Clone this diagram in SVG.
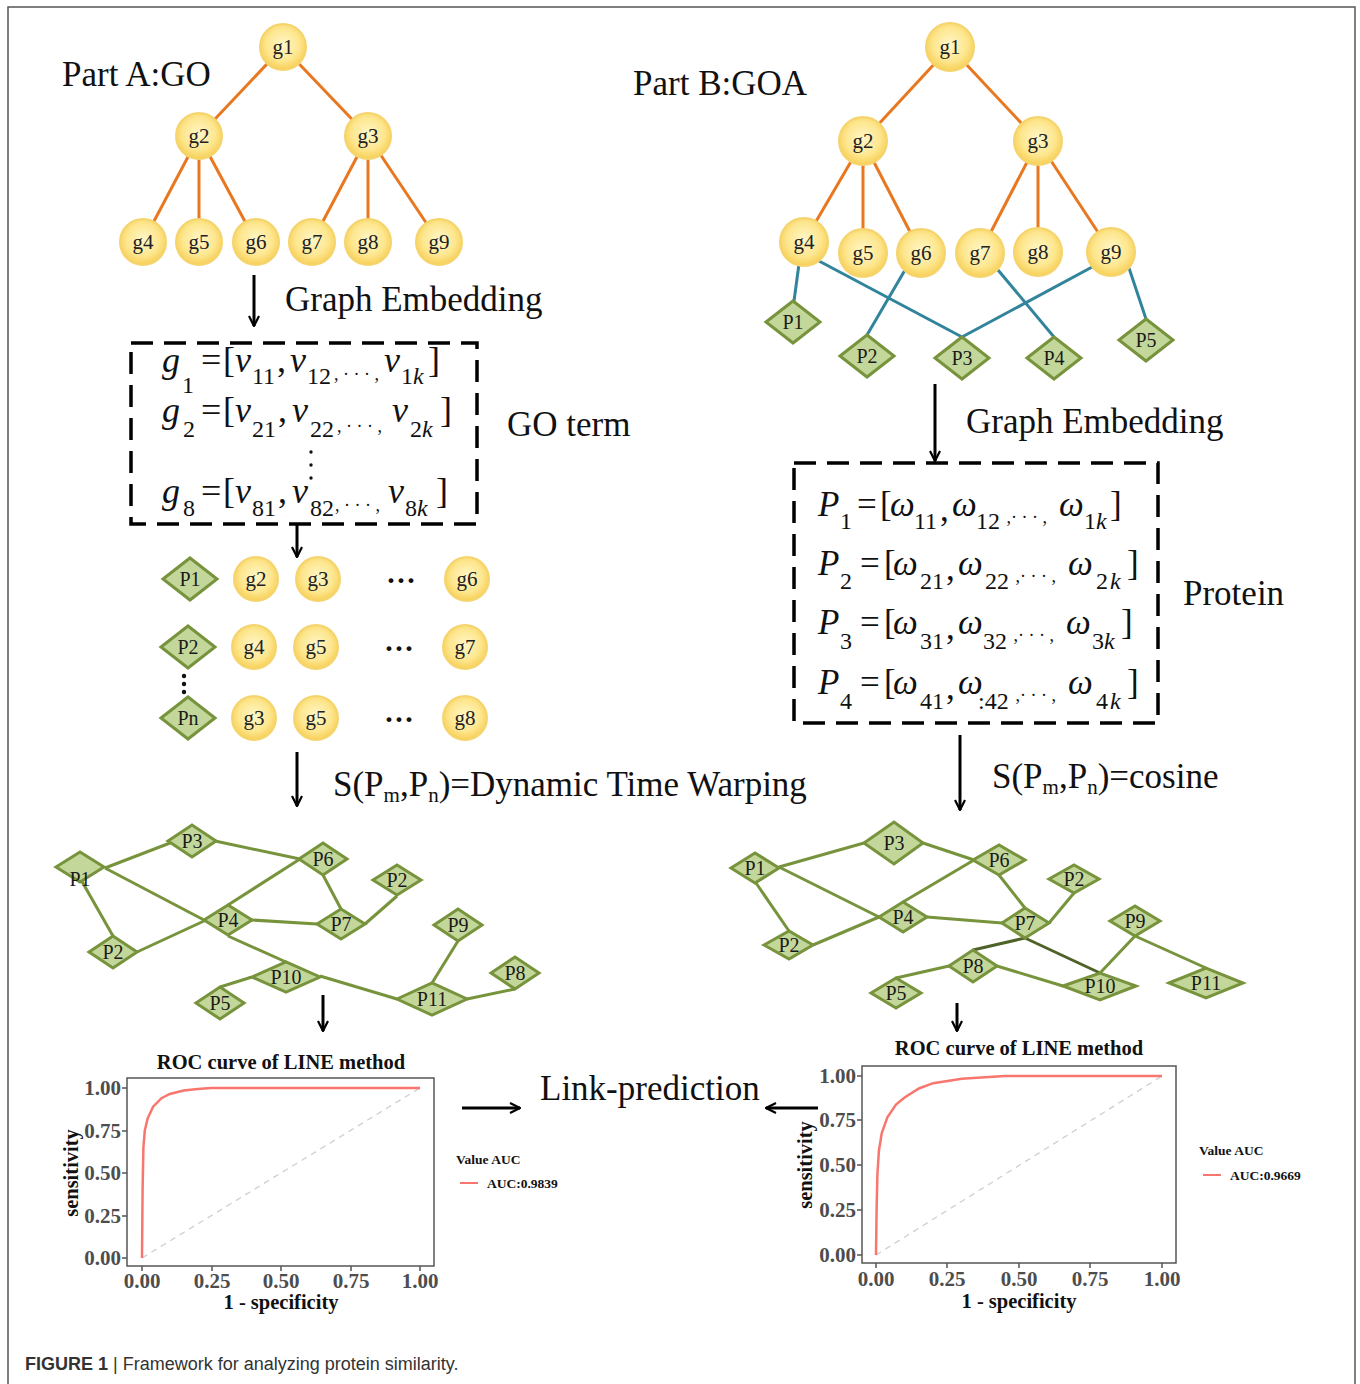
<svg xmlns="http://www.w3.org/2000/svg" width="1360" height="1384" viewBox="0 0 1360 1384">
<defs>
<radialGradient id="gold" cx="50%" cy="45%" r="55%">
<stop offset="0" stop-color="#FFF7C8"/>
<stop offset="0.65" stop-color="#FDE68E"/>
<stop offset="1" stop-color="#F7CF55"/>
</radialGradient>
<marker id="ah" viewBox="0 0 12 12" refX="11" refY="6" markerWidth="12" markerHeight="12" markerUnits="userSpaceOnUse" orient="auto">
<path d="M1,1 L11,6 L1,11" fill="none" stroke="#000" stroke-width="2.2"/>
</marker>
<style>
.t{font-family:"Liberation Serif",serif;fill:#111}
.big{font-size:35px}
.gc{fill:url(#gold);stroke:#F5D46E;stroke-width:2}
.gl{font-family:"Liberation Serif",serif;font-size:21px;fill:#222;text-anchor:middle}
.dm{fill:#C4D79B;stroke:#77933C;stroke-width:3}
.pl{font-family:"Liberation Serif",serif;font-size:20px;fill:#1a1a1a;text-anchor:middle}
.oe{stroke:#E8771F;stroke-width:3;fill:none}
.be{stroke:#31849B;stroke-width:3;fill:none}
.ge{stroke:#77933C;stroke-width:3;fill:none}
.gd{stroke:#4F6228;stroke-width:3;fill:none}
.arr{stroke:#000;stroke-width:3;fill:none;marker-end:url(#ah)}
.box{fill:none;stroke:#000;stroke-width:3.5;stroke-dasharray:22 11}
.m{font-family:"Liberation Serif",serif;font-size:36px;fill:#111}
.mb{font-family:"Liberation Serif",serif;font-size:35px;fill:#111}
.i{font-style:italic}
.s{font-size:24px}
.el{font-size:18px}
.ax{font-family:"Liberation Serif",serif;font-size:21px;font-weight:bold;fill:#4D4D4D}
.axt{font-family:"Liberation Serif",serif;font-size:20.5px;font-weight:bold;fill:#111}
.ttl{font-family:"Liberation Serif",serif;font-size:20.5px;font-weight:bold;fill:#111;text-anchor:middle}
.lg{font-family:"Liberation Serif",serif;font-size:13.5px;font-weight:bold;fill:#111}
.frame{fill:none;stroke:#555;stroke-width:1.5}
.pb{fill:#fff;stroke:#555;stroke-width:1.5}
.tk{stroke:#555;stroke-width:1.5}
.roc{fill:none;stroke:#F8766D;stroke-width:2.5}
.dg{fill:none;stroke:#CFCFCF;stroke-width:1.3;stroke-dasharray:6 5}
.dots{font-family:"Liberation Serif",serif;font-size:30px;font-weight:bold;fill:#111}
</style>
</defs>
<rect x="0" y="0" width="1360" height="1384" fill="#fff"/>
<path class="frame" d="M8,1390 L8,7 L1355,7 L1355,1390"/>

<text class="t big" x="62" y="86">Part A:GO</text>
<g id="connectors">
<g id="edgesA">
<line class="oe" x1="283" y1="47" x2="199" y2="136"/>
<line class="oe" x1="283" y1="47" x2="368" y2="136"/>
<line class="oe" x1="199" y1="136" x2="143" y2="242"/>
<line class="oe" x1="199" y1="136" x2="199" y2="242"/>
<line class="oe" x1="199" y1="136" x2="256" y2="242"/>
<line class="oe" x1="368" y1="136" x2="312" y2="242"/>
<line class="oe" x1="368" y1="136" x2="368" y2="242"/>
<line class="oe" x1="368" y1="136" x2="439" y2="242"/>
</g>
<g id="edgesB">
<line class="oe" x1="950" y1="47" x2="863" y2="141"/>
<line class="oe" x1="950" y1="47" x2="1038" y2="141"/>
<line class="oe" x1="863" y1="141" x2="804" y2="242"/>
<line class="oe" x1="863" y1="141" x2="863" y2="253"/>
<line class="oe" x1="863" y1="141" x2="921" y2="253"/>
<line class="oe" x1="1038" y1="141" x2="980" y2="253"/>
<line class="oe" x1="1038" y1="141" x2="1038" y2="252"/>
<line class="oe" x1="1038" y1="141" x2="1111" y2="252"/>
<line class="be" x1="799" y1="264" x2="794" y2="301"/>
<line class="be" x1="819" y1="261" x2="962" y2="337"/>
<line class="be" x1="905" y1="270" x2="867" y2="335"/>
<line class="be" x1="998" y1="270" x2="1054" y2="337"/>
<line class="be" x1="1094" y1="266" x2="962" y2="337"/>
<line class="be" x1="1129" y1="268" x2="1146" y2="319"/>
</g>
<g id="edgesNetL">
<line class="ge" x1="105" y1="868" x2="170" y2="843"/>
<line class="ge" x1="215" y1="841" x2="300" y2="859"/>
<line class="ge" x1="105" y1="868" x2="204" y2="920"/>
<line class="ge" x1="228" y1="936" x2="286" y2="962"/>
<line class="ge" x1="320" y1="976" x2="397" y2="999"/>
<line class="ge" x1="80" y1="878" x2="113" y2="936"/>
<line class="ge" x1="137" y1="952" x2="204" y2="921"/>
<line class="ge" x1="228" y1="905" x2="300" y2="859"/>
<line class="ge" x1="323" y1="875" x2="341" y2="909"/>
<line class="ge" x1="252" y1="920" x2="317" y2="924"/>
<line class="ge" x1="365" y1="924" x2="397" y2="896"/>
<line class="ge" x1="220" y1="987" x2="252" y2="977"/>
<line class="ge" x1="432" y1="983" x2="458" y2="941"/>
<line class="ge" x1="467" y1="999" x2="515" y2="989"/>
</g>
<g id="edgesNetR">
<line class="ge" x1="779" y1="867" x2="864" y2="843"/>
<line class="ge" x1="923" y1="843" x2="974" y2="860"/>
<line class="ge" x1="779" y1="867" x2="879" y2="917"/>
<line class="ge" x1="756" y1="883" x2="789" y2="931"/>
<line class="ge" x1="813" y1="945" x2="879" y2="917"/>
<line class="ge" x1="903" y1="902" x2="974" y2="860"/>
<line class="ge" x1="999" y1="875" x2="1025" y2="908"/>
<line class="ge" x1="927" y1="917" x2="1002" y2="923"/>
<line class="ge" x1="1049" y1="923" x2="1074" y2="893"/>
<line class="gd" x1="1025" y1="938" x2="973" y2="950"/>
<line class="gd" x1="1025" y1="938" x2="1100" y2="973"/>
<line class="ge" x1="949" y1="966" x2="896" y2="978"/>
<line class="ge" x1="997" y1="966" x2="1063" y2="986"/>
<line class="ge" x1="1100" y1="973" x2="1135" y2="936"/>
<line class="ge" x1="1135" y1="936" x2="1206" y2="968"/>
</g>
<g id="flowArrows">
<line class="arr" x1="254" y1="275" x2="254" y2="326"/>
<line class="arr" x1="297" y1="524" x2="297" y2="557"/>
<line class="arr" x1="297" y1="752" x2="297" y2="806"/>
<line class="arr" x1="935" y1="384" x2="935" y2="461"/>
<line class="arr" x1="960" y1="735" x2="960" y2="810"/>
<line class="arr" x1="323" y1="995" x2="323" y2="1031"/>
<line class="arr" x1="957" y1="1003" x2="957" y2="1031"/>
<line class="arr" x1="462" y1="1108" x2="520" y2="1108"/>
<line class="arr" x1="818" y1="1108" x2="766" y2="1108"/>
</g>
</g>

<g id="treeA">
<g id="A-g1"><circle class="gc" cx="283" cy="47" r="23"/><text class="gl" x="283" y="54">g1</text></g>
<g id="A-g2"><circle class="gc" cx="199" cy="136" r="23"/><text class="gl" x="199" y="143">g2</text></g>
<g id="A-g3"><circle class="gc" cx="368" cy="136" r="23"/><text class="gl" x="368" y="143">g3</text></g>
<g id="A-g4"><circle class="gc" cx="143" cy="242" r="23"/><text class="gl" x="143" y="249">g4</text></g>
<g id="A-g5"><circle class="gc" cx="199" cy="242" r="23"/><text class="gl" x="199" y="249">g5</text></g>
<g id="A-g6"><circle class="gc" cx="256" cy="242" r="23"/><text class="gl" x="256" y="249">g6</text></g>
<g id="A-g7"><circle class="gc" cx="312" cy="242" r="23"/><text class="gl" x="312" y="249">g7</text></g>
<g id="A-g8"><circle class="gc" cx="368" cy="242" r="23"/><text class="gl" x="368" y="249">g8</text></g>
<g id="A-g9"><circle class="gc" cx="439" cy="242" r="23"/><text class="gl" x="439" y="249">g9</text></g>
</g>
<text class="t big" x="285" y="311">Graph Embedding</text>

<g id="goBox">
<rect class="box" x="131" y="343" width="346" height="181"/>
<text class="m"><tspan class="i" x="162" y="372">g</tspan><tspan class="s" x="182" y="393">1</tspan><tspan x="201" y="372">=</tspan><tspan x="223" y="372">[</tspan><tspan class="i" x="235" y="372">v</tspan><tspan class="s" x="252" y="384">11</tspan><tspan x="277" y="372">,</tspan><tspan class="i" x="290" y="372">v</tspan><tspan class="s" x="307" y="384">12</tspan><tspan class="el" x="334" y="380">, · · · ,</tspan><tspan class="i" x="384" y="372">v</tspan><tspan class="s" x="401" y="384">1</tspan><tspan class="s i" x="413" y="384">k</tspan><tspan x="428" y="372">]</tspan></text>
<text class="m"><tspan class="i" x="162" y="422">g</tspan><tspan class="s" x="183" y="437">2</tspan><tspan x="201" y="422">=</tspan><tspan x="223" y="422">[</tspan><tspan class="i" x="235" y="422">v</tspan><tspan class="s" x="252" y="437">21</tspan><tspan x="278" y="422">,</tspan><tspan class="i" x="292" y="422">v</tspan><tspan class="s" x="310" y="437">22</tspan><tspan class="el" x="337" y="432">, · · · ,</tspan><tspan class="i" x="392" y="422">v</tspan><tspan class="s" x="410" y="437">2</tspan><tspan class="s i" x="422" y="437">k</tspan><tspan x="440" y="422">]</tspan></text>
<circle cx="311" cy="452" r="1.7" fill="#111"/><circle cx="311" cy="465" r="1.7" fill="#111"/><circle cx="311" cy="478" r="1.7" fill="#111"/>
<text class="m"><tspan class="i" x="162" y="503">g</tspan><tspan class="s" x="183" y="516">8</tspan><tspan x="201" y="503">=</tspan><tspan x="223" y="503">[</tspan><tspan class="i" x="235" y="503">v</tspan><tspan class="s" x="252" y="516">81</tspan><tspan x="278" y="503">,</tspan><tspan class="i" x="292" y="503">v</tspan><tspan class="s" x="310" y="516">82</tspan><tspan class="el" x="335" y="511">, · · · ,</tspan><tspan class="i" x="388" y="503">v</tspan><tspan class="s" x="405" y="516">8</tspan><tspan class="s i" x="417" y="516">k</tspan><tspan x="436" y="503">]</tspan></text>
</g>
<text class="t big" x="507" y="436">GO term</text>

<g id="annotGrid">
<g id="row1">
<g id="R1-P1"><polygon class="dm" points="163,579 190,558 217,579 190,600"/><text class="pl" x="190" y="586">P1</text></g>
<g id="R1-g2"><circle class="gc" cx="256" cy="579" r="22"/><text class="gl" x="256" y="586">g2</text></g>
<g id="R1-g3"><circle class="gc" cx="318" cy="579" r="22"/><text class="gl" x="318" y="586">g3</text></g>
<text class="dots" x="386" y="590">···</text>
<g id="R1-g6"><circle class="gc" cx="467" cy="579" r="22"/><text class="gl" x="467" y="586">g6</text></g>
</g>
<g id="row2">
<g id="R2-P2"><polygon class="dm" points="161,647 188,626 215,647 188,668"/><text class="pl" x="188" y="654">P2</text></g>
<g id="R2-g4"><circle class="gc" cx="254" cy="647" r="22"/><text class="gl" x="254" y="654">g4</text></g>
<g id="R2-g5"><circle class="gc" cx="316" cy="647" r="22"/><text class="gl" x="316" y="654">g5</text></g>
<text class="dots" x="384" y="658">···</text>
<g id="R2-g7"><circle class="gc" cx="465" cy="647" r="22"/><text class="gl" x="465" y="654">g7</text></g>
</g>
<circle cx="184" cy="676" r="2.2" fill="#111"/><circle cx="184" cy="684" r="2.2" fill="#111"/><circle cx="184" cy="692" r="2.2" fill="#111"/>
<g id="row3">
<g id="R3-Pn"><polygon class="dm" points="161,718 188,697 215,718 188,739"/><text class="pl" x="188" y="725">Pn</text></g>
<g id="R3-g3"><circle class="gc" cx="254" cy="718" r="22"/><text class="gl" x="254" y="725">g3</text></g>
<g id="R3-g5"><circle class="gc" cx="316" cy="718" r="22"/><text class="gl" x="316" y="725">g5</text></g>
<text class="dots" x="384" y="729">···</text>
<g id="R3-g8"><circle class="gc" cx="465" cy="718" r="22"/><text class="gl" x="465" y="725">g8</text></g>
</g>
</g>
<text class="t big" x="333" y="796">S(P<tspan font-size="21" dy="6">m</tspan><tspan dy="-6">,P</tspan><tspan font-size="21" dy="6">n</tspan><tspan dy="-6">)=Dynamic Time Warping</tspan></text>

<text class="t big" x="633" y="95">Part B:GOA</text>
<g id="treeB">
<g id="B-g1"><circle class="gc" cx="950" cy="47" r="24"/><text class="gl" x="950" y="54">g1</text></g>
<g id="B-g2"><circle class="gc" cx="863" cy="141" r="24"/><text class="gl" x="863" y="148">g2</text></g>
<g id="B-g3"><circle class="gc" cx="1038" cy="141" r="24"/><text class="gl" x="1038" y="148">g3</text></g>
<g id="B-g4"><circle class="gc" cx="804" cy="242" r="24"/><text class="gl" x="804" y="249">g4</text></g>
<g id="B-g5"><circle class="gc" cx="863" cy="253" r="24"/><text class="gl" x="863" y="260">g5</text></g>
<g id="B-g6"><circle class="gc" cx="921" cy="253" r="24"/><text class="gl" x="921" y="260">g6</text></g>
<g id="B-g7"><circle class="gc" cx="980" cy="253" r="24"/><text class="gl" x="980" y="260">g7</text></g>
<g id="B-g8"><circle class="gc" cx="1038" cy="252" r="24"/><text class="gl" x="1038" y="259">g8</text></g>
<g id="B-g9"><circle class="gc" cx="1111" cy="252" r="24"/><text class="gl" x="1111" y="259">g9</text></g>
<g id="B-P1"><polygon class="dm" points="766,322 793,301 820,322 793,343"/><text class="pl" x="793" y="329">P1</text></g>
<g id="B-P2"><polygon class="dm" points="840,356 867,335 894,356 867,377"/><text class="pl" x="867" y="363">P2</text></g>
<g id="B-P3"><polygon class="dm" points="935,358 962,337 989,358 962,379"/><text class="pl" x="962" y="365">P3</text></g>
<g id="B-P4"><polygon class="dm" points="1027,358 1054,337 1081,358 1054,379"/><text class="pl" x="1054" y="365">P4</text></g>
<g id="B-P5"><polygon class="dm" points="1119,340 1146,319 1173,340 1146,361"/><text class="pl" x="1146" y="347">P5</text></g>
</g>
<text class="t big" x="966" y="433">Graph Embedding</text>

<g id="proteinBox">
<rect class="box" x="794" y="463" width="364" height="260"/>
<text class="mb"><tspan class="i" x="818" y="516">P</tspan><tspan class="s" x="840" y="529">1</tspan><tspan x="857" y="516">=</tspan><tspan x="880" y="516">[</tspan><tspan class="i" x="890" y="516">ω</tspan><tspan class="s" x="914" y="529">11</tspan><tspan x="940" y="521">,</tspan><tspan class="i" x="952" y="516">ω</tspan><tspan class="s" x="976" y="529">12</tspan><tspan class="el" x="1002" y="523"> ,· · · ,</tspan><tspan class="i" x="1059" y="516">ω</tspan><tspan class="s" x="1084" y="529">1</tspan><tspan class="s i" x="1096" y="529">k</tspan><tspan x="1110" y="516">]</tspan></text>
<text class="mb"><tspan class="i" x="818" y="575">P</tspan><tspan class="s" x="840" y="589">2</tspan><tspan x="860" y="575">=</tspan><tspan x="884" y="575">[</tspan><tspan class="i" x="893" y="575">ω</tspan><tspan class="s" x="920" y="589">21</tspan><tspan x="946" y="580">,</tspan><tspan class="i" x="958" y="575">ω</tspan><tspan class="s" x="985" y="589">22</tspan><tspan class="el" x="1011" y="582"> ,· · · ,</tspan><tspan class="i" x="1068" y="575">ω</tspan><tspan class="s" x="1096" y="589">2</tspan><tspan class="s i" x="1110" y="589">k</tspan><tspan x="1127" y="575">]</tspan></text>
<text class="mb"><tspan class="i" x="818" y="634">P</tspan><tspan class="s" x="840" y="649">3</tspan><tspan x="860" y="634">=</tspan><tspan x="884" y="634">[</tspan><tspan class="i" x="893" y="634">ω</tspan><tspan class="s" x="920" y="649">31</tspan><tspan x="946" y="639">,</tspan><tspan class="i" x="958" y="634">ω</tspan><tspan class="s" x="983" y="649">32</tspan><tspan class="el" x="1009" y="641"> ,· · · ,</tspan><tspan class="i" x="1066" y="634">ω</tspan><tspan class="s" x="1092" y="649">3</tspan><tspan class="s i" x="1104" y="649">k</tspan><tspan x="1121" y="634">]</tspan></text>
<text class="mb"><tspan class="i" x="818" y="694">P</tspan><tspan class="s" x="840" y="709">4</tspan><tspan x="860" y="694">=</tspan><tspan x="884" y="694">[</tspan><tspan class="i" x="893" y="694">ω</tspan><tspan class="s" x="920" y="709">41</tspan><tspan x="946" y="699">,</tspan><tspan class="i" x="958" y="694">ω</tspan><tspan class="s" x="978" y="709">:42</tspan><tspan class="el" x="1011" y="701"> ,· · · ,</tspan><tspan class="i" x="1068" y="694">ω</tspan><tspan class="s" x="1096" y="709">4</tspan><tspan class="s i" x="1110" y="709">k</tspan><tspan x="1127" y="694">]</tspan></text>
</g>
<text class="t big" x="1183" y="605">Protein</text>
<text class="t big" x="992" y="788">S(P<tspan font-size="21" dy="6">m</tspan><tspan dy="-6">,P</tspan><tspan font-size="21" dy="6">n</tspan><tspan dy="-6">)=cosine</tspan></text>

<g id="netL">
<g id="L-P1"><polygon class="dm" points="56,867 80,852 104,867 80,882"/><text class="pl" x="80" y="886">P1</text></g>
<g id="L-P3"><polygon class="dm" points="168,841 192,825 216,841 192,857"/><text class="pl" x="192" y="848">P3</text></g>
<g id="L-P6"><polygon class="dm" points="299,859 323,843 347,859 323,875"/><text class="pl" x="323" y="866">P6</text></g>
<g id="L-P2r"><polygon class="dm" points="373,880 397,865 421,880 397,895"/><text class="pl" x="397" y="887">P2</text></g>
<g id="L-P4"><polygon class="dm" points="204,920 228,905 252,920 228,935"/><text class="pl" x="228" y="927">P4</text></g>
<g id="L-P7"><polygon class="dm" points="317,924 341,909 365,924 341,939"/><text class="pl" x="341" y="931">P7</text></g>
<g id="L-P2l"><polygon class="dm" points="89,952 113,936 137,952 113,968"/><text class="pl" x="113" y="959">P2</text></g>
<g id="L-P9"><polygon class="dm" points="434,925 458,909 482,925 458,941"/><text class="pl" x="458" y="932">P9</text></g>
<g id="L-P10"><polygon class="dm" points="252,977 286,962 320,977 286,992"/><text class="pl" x="286" y="984">P10</text></g>
<g id="L-P8"><polygon class="dm" points="491,973 515,957 539,973 515,989"/><text class="pl" x="515" y="980">P8</text></g>
<g id="L-P5"><polygon class="dm" points="196,1003 220,987 244,1003 220,1019"/><text class="pl" x="220" y="1010">P5</text></g>
<g id="L-P11"><polygon class="dm" points="397,999 432,983 467,999 432,1015"/><text class="pl" x="432" y="1006">P11</text></g>
</g>

<g id="netR">
<g id="R-P1"><polygon class="dm" points="731,868 755,853 779,868 755,883"/><text class="pl" x="755" y="875">P1</text></g>
<g id="R-P3"><polygon class="dm" points="864,843 894,822 923,843 894,864"/><text class="pl" x="894" y="850">P3</text></g>
<g id="R-P6"><polygon class="dm" points="973,860 999,845 1025,860 999,875"/><text class="pl" x="999" y="867">P6</text></g>
<g id="R-P2r"><polygon class="dm" points="1049,879 1074,865 1099,879 1074,893"/><text class="pl" x="1074" y="886">P2</text></g>
<g id="R-P4"><polygon class="dm" points="879,917 903,902 927,917 903,932"/><text class="pl" x="903" y="924">P4</text></g>
<g id="R-P7"><polygon class="dm" points="1002,923 1025,908 1049,923 1025,938"/><text class="pl" x="1025" y="930">P7</text></g>
<g id="R-P2l"><polygon class="dm" points="764,945 789,931 813,945 789,959"/><text class="pl" x="789" y="952">P2</text></g>
<g id="R-P9"><polygon class="dm" points="1110,921 1135,906 1160,921 1135,936"/><text class="pl" x="1135" y="928">P9</text></g>
<g id="R-P8"><polygon class="dm" points="949,966 973,950 997,966 973,982"/><text class="pl" x="973" y="973">P8</text></g>
<g id="R-P5"><polygon class="dm" points="871,993 896,978 921,993 896,1008"/><text class="pl" x="896" y="1000">P5</text></g>
<g id="R-P10"><polygon class="dm" points="1063,986 1100,973 1136,986 1100,1000"/><text class="pl" x="1100" y="993">P10</text></g>
<g id="R-P11"><polygon class="dm" points="1169,983 1206,968 1243,983 1206,998"/><text class="pl" x="1206" y="990">P11</text></g>
</g>

<g id="rocL">
<text class="ttl" x="281" y="1069">ROC curve of LINE method</text>
<rect class="pb" x="127" y="1078" width="307" height="188"/>
<line class="dg" x1="142" y1="1258" x2="420" y2="1088"/>
<polyline class="roc" points="142,1258 142.6,1190 143.4,1147.5 144.8,1130.5 147.6,1118.6 153.1,1106.7 161.5,1098.2 169.8,1094 183.7,1090.5 197.6,1088.9 211.5,1088 420,1088"/>
<g class="tk">
<line x1="122" y1="1088" x2="127" y2="1088"/><line x1="122" y1="1131" x2="127" y2="1131"/><line x1="122" y1="1173" x2="127" y2="1173"/><line x1="122" y1="1216" x2="127" y2="1216"/><line x1="122" y1="1258" x2="127" y2="1258"/>
<line x1="142" y1="1266" x2="142" y2="1271"/><line x1="212" y1="1266" x2="212" y2="1271"/><line x1="281" y1="1266" x2="281" y2="1271"/><line x1="351" y1="1266" x2="351" y2="1271"/><line x1="420" y1="1266" x2="420" y2="1271"/>
</g>
<g class="ax" text-anchor="end">
<text x="121" y="1095">1.00</text><text x="121" y="1138">0.75</text><text x="121" y="1180">0.50</text><text x="121" y="1223">0.25</text><text x="121" y="1265">0.00</text>
</g>
<g class="ax" text-anchor="middle">
<text x="142" y="1288">0.00</text><text x="212" y="1288">0.25</text><text x="281" y="1288">0.50</text><text x="351" y="1288">0.75</text><text x="420" y="1288">1.00</text>
</g>
<text class="axt" x="281" y="1309" text-anchor="middle">1 - specificity</text>
<text class="axt" x="0" y="0" text-anchor="middle" transform="translate(78,1173) rotate(-90)">sensitivity</text>
<text class="lg" x="456" y="1164">Value AUC</text>
<line x1="460" y1="1183" x2="478" y2="1183" stroke="#F8766D" stroke-width="2"/>
<text class="lg" x="487" y="1188" font-size="13px">AUC:0.9839</text>
</g>

<text class="t big" x="540" y="1100">Link-prediction</text>

<g id="rocR">
<text class="ttl" x="1019" y="1055">ROC curve of LINE method</text>
<rect class="pb" x="862" y="1066" width="314" height="197"/>
<line class="dg" x1="876" y1="1255" x2="1162" y2="1076"/>
<polyline class="roc" points="876,1255 876.6,1210 877.4,1174.5 878.9,1151 881.7,1133.3 887.4,1117.2 896,1104.6 904.6,1097.5 918.9,1088.5 933.2,1083.2 961.8,1078.7 1004.7,1076 1162,1076"/>
<g class="tk">
<line x1="857" y1="1076" x2="862" y2="1076"/><line x1="857" y1="1120" x2="862" y2="1120"/><line x1="857" y1="1165" x2="862" y2="1165"/><line x1="857" y1="1210" x2="862" y2="1210"/><line x1="857" y1="1255" x2="862" y2="1255"/>
<line x1="876" y1="1263" x2="876" y2="1268"/><line x1="947" y1="1263" x2="947" y2="1268"/><line x1="1019" y1="1263" x2="1019" y2="1268"/><line x1="1090" y1="1263" x2="1090" y2="1268"/><line x1="1162" y1="1263" x2="1162" y2="1268"/>
</g>
<g class="ax" text-anchor="end">
<text x="856" y="1083">1.00</text><text x="856" y="1127">0.75</text><text x="856" y="1172">0.50</text><text x="856" y="1217">0.25</text><text x="856" y="1262">0.00</text>
</g>
<g class="ax" text-anchor="middle">
<text x="876" y="1286">0.00</text><text x="947" y="1286">0.25</text><text x="1019" y="1286">0.50</text><text x="1090" y="1286">0.75</text><text x="1162" y="1286">1.00</text>
</g>
<text class="axt" x="1019" y="1308" text-anchor="middle">1 - specificity</text>
<text class="axt" x="0" y="0" text-anchor="middle" transform="translate(812,1165) rotate(-90)">sensitivity</text>
<text class="lg" x="1199" y="1155">Value AUC</text>
<line x1="1203" y1="1175" x2="1221" y2="1175" stroke="#F8766D" stroke-width="2"/>
<text class="lg" x="1230" y="1180" font-size="13px">AUC:0.9669</text>
</g>

<text x="25" y="1370" font-family="'Liberation Sans',Arial,sans-serif" font-size="18" fill="#333"><tspan font-weight="bold">FIGURE 1</tspan> | Framework for analyzing protein similarity.</text>
</svg>
